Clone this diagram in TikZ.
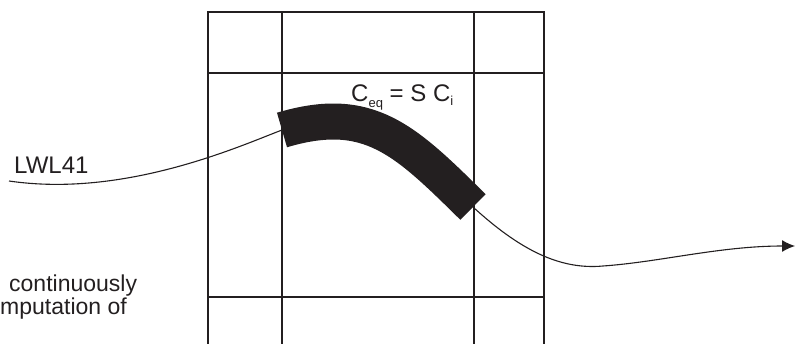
\documentclass[tikz,border=0pt]{standalone}
\usepackage{fontspec}
\setmainfont{Liberation Sans}
\usetikzlibrary{arrows.meta}
\definecolor{ink}{HTML}{231F20}

\begin{document}
\begin{tikzpicture}[x=1pt,y=-1pt,
  cell/.style={ink, line width=1.6pt, line cap=rect},
  fiber/.style={ink, line width=1.1pt},
  band/.style={ink, line width=36pt, line cap=butt},
  txt/.style={inner sep=0pt, anchor=base west, text=ink}]

\useasboundingbox (0,0) rectangle (800,343);

% grid of cells
\foreach \x in {208,282,474,544}
\draw[cell] (\x,12) -- (\x,343);
\foreach \y in {12,73,297}
\draw[cell] (208,\y) -- (544,\y);

% points along the fibre
\coordinate (in) at (9,181);
\coordinate (bandL) at (282,130);
\coordinate (bandR) at (473,207);
\coordinate (low) at (603,266);
\coordinate (out) at (795,246);

\draw[fiber] (in) .. controls (125,198) and (240,146) .. (bandL);
\draw[band] (bandL) .. controls (369,104) and (405,140) .. (bandR);
\draw[fiber, -{Latex[length=13pt,width=12pt]}] (bandR) .. controls (520,250) and (560,270) .. (low)
  .. controls (660,262) and (720,246) .. (out);

\node[txt, font=\fontsize{24}{24}\selectfont] (lwl) at (14,173) {LWL41};
\node[txt, font=\fontsize{23}{23}\selectfont] (cont) at (9,291) {continuously};
\node[txt, font=\fontsize{23}{23}\selectfont] (comp) at (0,314) {mputation of};
\node[txt, font=\fontsize{24}{24}\selectfont] (ceq) at (351,101)
  {C\raisebox{-6pt}{\fontsize{13}{13}\selectfont eq} = S C\raisebox{-4pt}{\fontsize{13}{13}\selectfont i}};

\end{tikzpicture}
\end{document}
